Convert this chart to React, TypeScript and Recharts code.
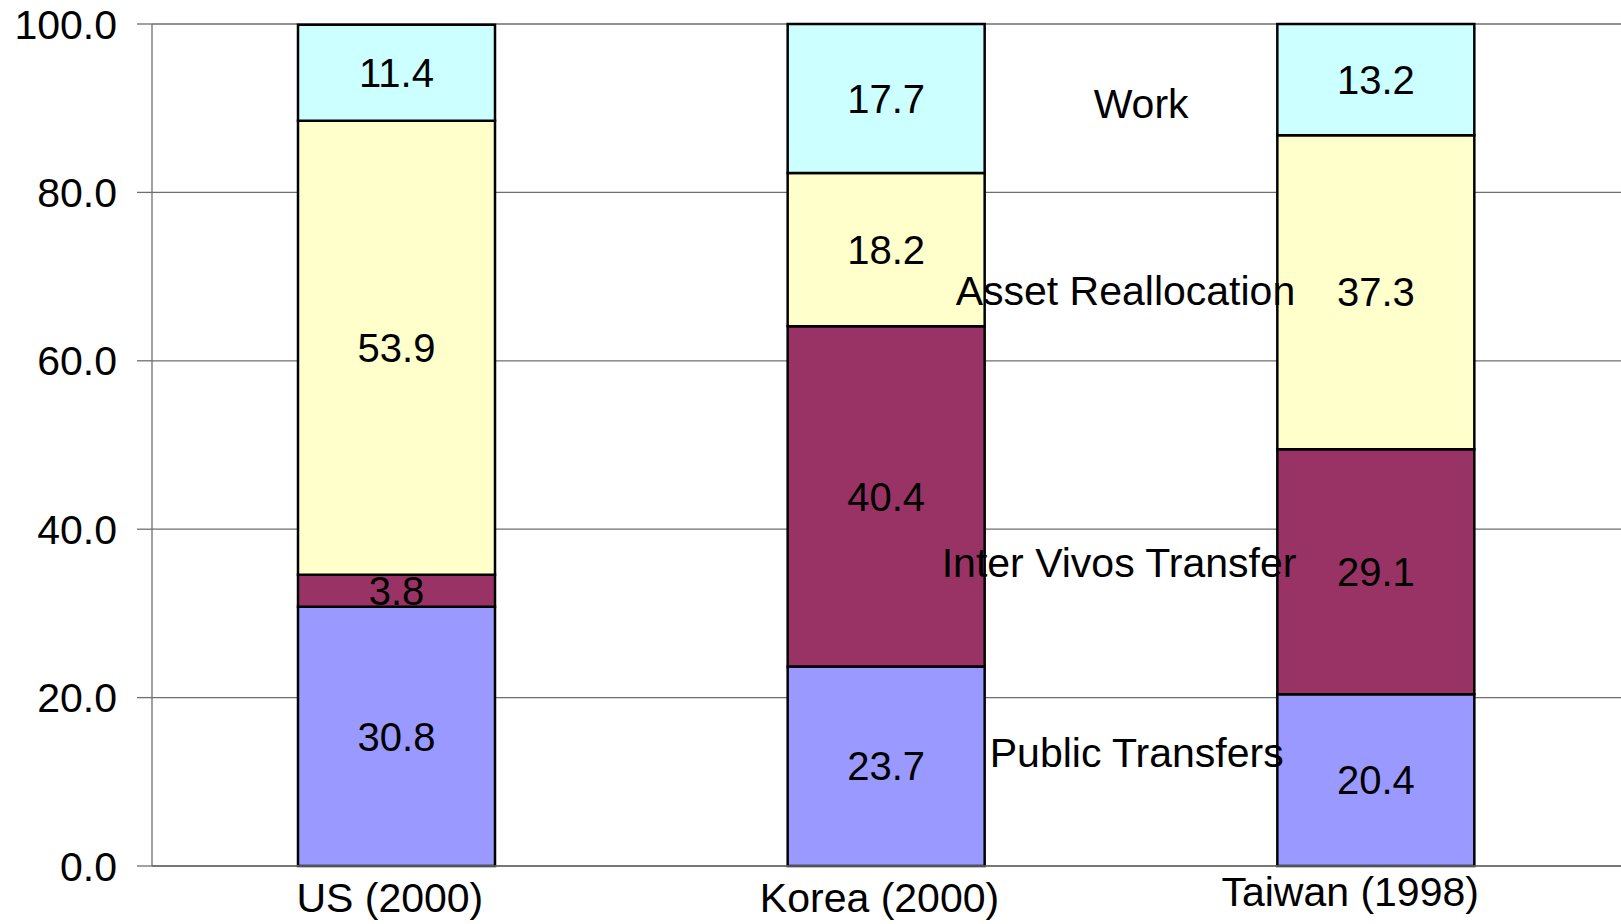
import React from "react";
import {
  Bar,
  BarChart,
  CartesianGrid,
  LabelList,
  ReferenceDot,
  XAxis,
  YAxis,
} from "recharts";

const countries = ["US (2000)", "Korea (2000)", "Taiwan (1998)"];
const publicTransfers = [30.8, 23.7, 20.4];
const interVivos = [3.8, 40.4, 29.1];
const assetRealloc = [53.9, 18.2, 37.3];
const work = [11.4, 17.7, 13.2];
const yTicks = [0, 20, 40, 60, 80, 100];

// text labels sitting between the Korea and Taiwan bars (x in category units)
const annotations = [
  { text: "Work", x: 2.02, y: 90.6 },
  { text: "Asset Reallocation", x: 1.988, y: 68.3 },
  { text: "Inter Vivos Transfer", x: 1.975, y: 36.0 },
  { text: "Public Transfers", x: 2.011, y: 13.5 },
];

const data = countries.map((name, i) => ({
  name,
  pos: i + 0.5,
  publicTransfers: publicTransfers[i],
  interVivos: interVivos[i],
  assetRealloc: assetRealloc[i],
  work: work[i],
}));

const FONT = "'Liberation Sans', Arial, sans-serif";
const GRID = "#6e6e6e";

const tickShift = [
  { dx: -7, dy: 0 },
  { dx: -7, dy: 0 },
  { dx: -26, dy: -6 },
];

function CategoryTick({ x, y, payload, index }: any) {
  const s = tickShift[index] || { dx: 0, dy: 0 };
  return (
    <text
      x={x + s.dx}
      y={y + s.dy}
      dy="0.71em"
      textAnchor="middle"
      fontSize={41}
      fontFamily={FONT}
      fill="#000"
    >
      {payload.value}
    </text>
  );
}

const series = [
  { key: "publicTransfers", color: "#9999FF" },
  { key: "interVivos", color: "#993366" },
  { key: "assetRealloc", color: "#FFFFCC" },
  { key: "work", color: "#CCFFFF" },
];

export default function App() {
  return (
    <div style={{ position: "absolute", left: 0, top: 0, background: "#fff" }}>
      <BarChart
        width={1621}
        height={924}
        data={data}
        barSize={197}
        margin={{ top: 24, right: 0, bottom: 0, left: 0 }}
        style={{ fontFamily: FONT }}
      >
        <CartesianGrid vertical={false} stroke={GRID} strokeWidth={1.3} />
        <XAxis
          dataKey="name"
          height={58}
          tickLine={false}
          tickSize={0}
          tickMargin={17}
          axisLine={{ stroke: GRID, strokeWidth: 1.3 }}
          tick={<CategoryTick />}
          interval={0}
        />
        <XAxis
          xAxisId="pos"
          dataKey="pos"
          type="number"
          domain={[0, 3]}
          allowDataOverflow
          hide
        />
        <YAxis
          width={152}
          domain={[0, 100]}
          ticks={yTicks}
          tickFormatter={(v: number) => v.toFixed(1)}
          tickSize={15}
          tickMargin={20}
          tickLine={{ stroke: GRID, strokeWidth: 1.3 }}
          axisLine={{ stroke: GRID, strokeWidth: 1.3 }}
          tick={{ fontSize: 41, fill: "#000", fontFamily: FONT }}
          interval={0}
        />
        {series.map((s) => (
          <Bar
            key={s.key}
            dataKey={s.key}
            stackId="a"
            fill={s.color}
            stroke="#000"
            strokeWidth={2.5}
            isAnimationActive={false}
          >
            <LabelList
              dataKey={s.key}
              position="center"
              formatter={(v: any) => Number(v).toFixed(1)}
              fill="#000"
              fontSize={40}
              fontFamily={FONT}
            />
          </Bar>
        ))}
        {annotations.map((a) => (
          <ReferenceDot
            key={a.text}
            xAxisId="pos"
            x={a.x}
            y={a.y}
            r={0}
            fill="none"
            stroke="none"
            label={{
              value: a.text,
              fontSize: 41,
              fill: "#000",
              fontFamily: FONT,
            }}
          />
        ))}
      </BarChart>
    </div>
  );
}
